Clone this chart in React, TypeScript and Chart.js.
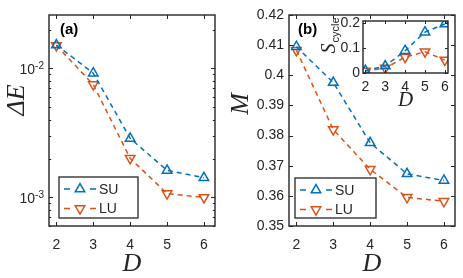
import React, { useEffect, useRef } from 'react';
import { Chart, registerables } from 'chart.js';
import { drawPoint } from 'chart.js/helpers';

Chart.register(...registerables);

// ---------------- data ----------------
const D = [2, 3, 4, 5, 6];
const SERIES = ['SU', 'LU'];
const DELTA_E_SU = [0.0152, 0.0092, 0.00287, 0.00162, 0.00142];
const DELTA_E_LU = [0.0151, 0.0075, 0.00201, 0.00107, 0.001];
const M_SU = [0.4095, 0.3976, 0.3776, 0.3673, 0.3651];
const M_LU = [0.4083, 0.382, 0.3688, 0.3595, 0.3582];
const S_SU = [0.01, 0.028, 0.09, 0.165, 0.198];
const S_LU = [0.008, 0.02, 0.064, 0.086, 0.052];

const X_TICKS = [2, 3, 4, 5, 6];
const M_TICKS = [0.35, 0.36, 0.37, 0.38, 0.39, 0.4, 0.41, 0.42];
const S_TICKS = [0, 0.1, 0.2];
const LOG_MAJOR = [1e-3, 1e-2];

// ---------------- style ----------------
const BLUE = '#0072BD';
const ORANGE = '#D95319';
const AX = '#262626';
const SANS = '"Liberation Sans", Arial, Helvetica, sans-serif';
const SERIF = '"Liberation Serif", "Times New Roman", serif';

function dataset(label: string, ys: number[], color: string, down: boolean) {
  return {
    label,
    data: D.map((d, i) => ({ x: d, y: ys[i] })),
    borderColor: color,
    backgroundColor: 'rgba(0,0,0,0)',
    borderWidth: 1.5,
    borderDash: [5, 4],
    pointStyle: 'triangle',
    rotation: down ? 180 : 0,
    pointRotation: down ? 180 : 0,
    pointRadius: 5.5,
    pointHoverRadius: 5.5,
    pointBorderWidth: 1.5,
    pointBorderColor: color,
    pointBackgroundColor: 'rgba(0,0,0,0)',
    tension: 0,
    fill: false,
  };
}

function isMajorLog(v: number) {
  const l = Math.log10(v);
  return Math.abs(l - Math.round(l)) < 1e-6;
}

function drawFrame(chart: any, logY = false, len = 4) {
  const { ctx, chartArea: a } = chart;
  const xs = chart.scales.x;
  const ys = chart.scales.y;
  ctx.save();
  ctx.setLineDash([]);
  ctx.strokeStyle = AX;
  ctx.lineWidth = 1;
  ctx.beginPath();
  for (const t of xs.ticks) {
    const p = Math.round(xs.getPixelForValue(t.value)) + 0.5;
    ctx.moveTo(p, a.bottom);
    ctx.lineTo(p, a.bottom - len);
    ctx.moveTo(p, a.top);
    ctx.lineTo(p, a.top + len);
  }
  for (const t of ys.ticks) {
    const p = Math.round(ys.getPixelForValue(t.value)) + 0.5;
    const L = logY && !isMajorLog(t.value) ? len * 0.55 : len;
    ctx.moveTo(a.left, p);
    ctx.lineTo(a.left + L, p);
    ctx.moveTo(a.right, p);
    ctx.lineTo(a.right - L, p);
  }
  ctx.stroke();
  ctx.lineWidth = 1.4;
  ctx.strokeRect(a.left, a.top, a.right - a.left, a.bottom - a.top);
  ctx.restore();
}

function drawLegend(ctx: CanvasRenderingContext2D, x: number, y: number, w: number, h: number) {
  ctx.save();
  ctx.setLineDash([]);
  ctx.fillStyle = '#ffffff';
  ctx.fillRect(x, y, w, h);
  ctx.strokeStyle = AX;
  ctx.lineWidth = 1.3;
  ctx.strokeRect(x, y, w, h);
  const colors = [BLUE, ORANGE];
  SERIES.forEach((label, i) => {
    const cy = y + 12 + i * 19.5;
    const x0 = x + 5;
    ctx.strokeStyle = colors[i];
    ctx.lineWidth = 1.5;
    ctx.beginPath();
    ctx.moveTo(x0, cy);
    ctx.lineTo(x0 + 6, cy);
    ctx.moveTo(x0 + 26, cy);
    ctx.lineTo(x0 + 32, cy);
    ctx.stroke();
    ctx.fillStyle = 'rgba(0,0,0,0)';
    drawPoint(ctx, { pointStyle: 'triangle', rotation: i === 1 ? 180 : 0, radius: 5.5, borderWidth: 1.5 } as any, x0 + 16, cy);
    ctx.fillStyle = AX;
    ctx.font = `14px ${SANS}`;
    ctx.textBaseline = 'middle';
    ctx.textAlign = 'left';
    ctx.fillText(label, x0 + 35, cy + 1);
  });
  ctx.restore();
}

function drawRotated(ctx: CanvasRenderingContext2D, text: string, x: number, y: number, font: string) {
  ctx.save();
  ctx.translate(x, y);
  ctx.rotate(-Math.PI / 2);
  ctx.font = font;
  ctx.fillStyle = AX;
  ctx.textAlign = 'center';
  ctx.textBaseline = 'middle';
  ctx.fillText(text, 0, 0);
  ctx.restore();
}

function xScale(min: number, max: number, height: number, padding: number) {
  return {
    type: 'linear',
    min,
    max,
    afterBuildTicks: (s: any) => {
      s.ticks = X_TICKS.map((v) => ({ value: v }));
    },
    afterFit: (s: any) => {
      s.height = height;
    },
    grid: { display: false, drawTicks: false },
    border: { display: false },
    ticks: {
      autoSkip: false,
      maxRotation: 0,
      padding,
      color: AX,
      font: { family: SANS, size: 14 },
      callback: (v: any) => String(v),
    },
  };
}

function baseOptions(scales: any, padding: any) {
  return {
    responsive: false,
    animation: false,
    devicePixelRatio: 1,
    events: [],
    layout: { padding },
    plugins: { legend: { display: false }, title: { display: false }, tooltip: { enabled: false } },
    scales,
  };
}

function PanelA() {
  const ref = useRef<HTMLCanvasElement>(null);
  useEffect(() => {
    const chart = new Chart(ref.current!, {
      type: 'line',
      data: {
        datasets: [
          dataset(SERIES[0], DELTA_E_SU, BLUE, false),
          dataset(SERIES[1], DELTA_E_LU, ORANGE, true),
        ] as any,
      },
      options: baseOptions(
        {
          x: xScale(1.8, 6.3, 52, 11),
          y: {
            type: 'logarithmic',
            min: 6.3e-4,
            max: 0.026,
            afterBuildTicks: (s: any) => {
              const t: any[] = [];
              for (let e = -4; e <= -1; e++) {
                for (let k = 1; k <= 9; k++) {
                  const v = k * Math.pow(10, e);
                  if (v >= s.min && v <= s.max) t.push({ value: v });
                }
              }
              s.ticks = t;
            },
            afterFit: (s: any) => {
              s.width = 49;
            },
            grid: { display: false, drawTicks: false },
            border: { display: false },
            ticks: { display: false, autoSkip: false },
          },
        },
        { left: 0, top: 15, right: 16, bottom: 0 }
      ) as any,
      plugins: [
        {
          id: 'decorA',
          afterDraw(c: any) {
            const ctx = c.ctx as CanvasRenderingContext2D;
            const a = c.chartArea;
            drawFrame(c, true, 4);
            const ys = c.scales.y;
            ctx.save();
            ctx.fillStyle = AX;
            for (const v of LOG_MAJOR) {
              const py = ys.getPixelForValue(v);
              const exp = String(Math.round(Math.log10(v)));
              ctx.font = `10px ${SANS}`;
              const we = ctx.measureText(exp).width;
              ctx.textAlign = 'right';
              ctx.textBaseline = 'alphabetic';
              ctx.fillText(exp, a.left - 5, py + 1);
              ctx.font = `14px ${SANS}`;
              ctx.fillText('10', a.left - 5 - we, py + 6);
            }
            ctx.restore();
            drawRotated(ctx, '\u0394E', 17, 100, `italic 26px ${SERIF}`);
            ctx.save();
            ctx.font = `italic 26px ${SERIF}`;
            ctx.fillStyle = AX;
            ctx.textAlign = 'center';
            ctx.textBaseline = 'middle';
            ctx.fillText('D', (a.left + a.right) / 2, 264);
            ctx.font = `bold 15px ${SANS}`;
            ctx.textAlign = 'left';
            ctx.fillStyle = '#000';
            ctx.fillText('(a)', a.left + 11, 30);
            ctx.restore();
            drawLegend(ctx, 59, 177, 79, 41);
          },
        },
      ],
    });
    return () => chart.destroy();
  }, []);
  return <canvas ref={ref} width={231} height={278} style={{ position: 'absolute', left: 0, top: 0 }} />;
}

function PanelB() {
  const ref = useRef<HTMLCanvasElement>(null);
  useEffect(() => {
    const chart = new Chart(ref.current!, {
      type: 'line',
      data: {
        datasets: [
          dataset(SERIES[0], M_SU, BLUE, false),
          dataset(SERIES[1], M_LU, ORANGE, true),
        ] as any,
      },
      options: baseOptions(
        {
          x: xScale(1.8, 6.3, 52, 11),
          y: {
            type: 'linear',
            min: 0.35,
            max: 0.42,
            afterBuildTicks: (s: any) => {
              s.ticks = M_TICKS.map((v) => ({ value: v }));
            },
            afterFit: (s: any) => {
              s.width = 58;
            },
            grid: { display: false, drawTicks: false },
            border: { display: false },
            ticks: {
              autoSkip: false,
              padding: 5,
              color: AX,
              font: { family: SANS, size: 14 },
              callback: (v: any) => String(Math.round(v * 100) / 100),
            },
          },
        },
        { left: 0, top: 15, right: 8, bottom: 0 }
      ) as any,
      plugins: [
        {
          id: 'decorB',
          afterDraw(c: any) {
            const ctx = c.ctx as CanvasRenderingContext2D;
            const a = c.chartArea;
            drawFrame(c, false, 4);
            drawRotated(ctx, 'M', 10, 104, `italic 26px ${SERIF}`);
            ctx.save();
            ctx.font = `italic 26px ${SERIF}`;
            ctx.fillStyle = AX;
            ctx.textAlign = 'center';
            ctx.textBaseline = 'middle';
            ctx.fillText('D', (a.left + a.right) / 2, 264);
            ctx.font = `bold 15px ${SANS}`;
            ctx.textAlign = 'left';
            ctx.fillStyle = '#000';
            ctx.fillText('(b)', a.left + 9, 30);
            ctx.restore();
            drawLegend(ctx, 64, 178, 81, 40);
          },
        },
      ],
    });
    return () => chart.destroy();
  }, []);
  return <canvas ref={ref} width={232} height={278} style={{ position: 'absolute', left: 231, top: 0 }} />;
}

function Inset() {
  const ref = useRef<HTMLCanvasElement>(null);
  useEffect(() => {
    const chart = new Chart(ref.current!, {
      type: 'line',
      data: {
        datasets: [
          dataset(SERIES[0], S_SU, BLUE, false),
          dataset(SERIES[1], S_LU, ORANGE, true),
        ] as any,
      },
      options: baseOptions(
        {
          x: xScale(1.88, 6.16, 42, 6),
          y: {
            type: 'linear',
            min: 0,
            max: 0.21,
            afterBuildTicks: (s: any) => {
              s.ticks = S_TICKS.map((v) => ({ value: v }));
            },
            afterFit: (s: any) => {
              s.width = 43;
            },
            grid: { display: false, drawTicks: false },
            border: { display: false },
            ticks: {
              autoSkip: false,
              padding: 3,
              color: AX,
              font: { family: SANS, size: 14 },
              callback: (v: any) => String(Math.round(v * 10) / 10),
            },
          },
        },
        { left: 0, top: 13, right: 6, bottom: 0 }
      ) as any,
      plugins: [
        {
          id: 'decorInset',
          beforeDatasetsDraw(c: any) {
            const ctx = c.ctx as CanvasRenderingContext2D;
            const a = c.chartArea;
            ctx.save();
            ctx.fillStyle = '#ffffff';
            ctx.fillRect(a.left, a.top, a.right - a.left, a.bottom - a.top);
            ctx.restore();
          },
          afterDraw(c: any) {
            const ctx = c.ctx as CanvasRenderingContext2D;
            const a = c.chartArea;
            drawFrame(c, false, 3);
            ctx.save();
            ctx.font = `italic 21px ${SERIF}`;
            ctx.fillStyle = AX;
            ctx.textAlign = 'center';
            ctx.textBaseline = 'middle';
            ctx.fillText('D', (a.left + a.right) / 2, 92);
            ctx.restore();
            // S_cycle rotated label
            ctx.save();
            ctx.translate(10, 28);
            ctx.rotate(-Math.PI / 2);
            ctx.fillStyle = AX;
            ctx.font = `italic 20px ${SERIF}`;
            const wS = ctx.measureText('S').width;
            ctx.font = `11px ${SANS}`;
            const wC = ctx.measureText('cycle').width;
            const start = -(wS + wC) / 2;
            ctx.textAlign = 'left';
            ctx.textBaseline = 'middle';
            ctx.font = `italic 20px ${SERIF}`;
            ctx.fillText('S', start, 0);
            ctx.font = `11px ${SANS}`;
            ctx.fillText('cycle', start + wS + 1, 6);
            ctx.restore();
          },
        },
      ],
    });
    return () => chart.destroy();
  }, []);
  return <canvas ref={ref} width={135} height={107} style={{ position: 'absolute', left: 320, top: 8 }} />;
}

export default function App() {
  useEffect(() => {
    document.body.style.margin = '0';
    document.body.style.background = '#ffffff';
  }, []);
  return (
    <div style={{ position: 'relative', width: 463, height: 278, background: '#ffffff', overflow: 'hidden' }}>
      <PanelA />
      <PanelB />
      <Inset />
    </div>
  );
}
